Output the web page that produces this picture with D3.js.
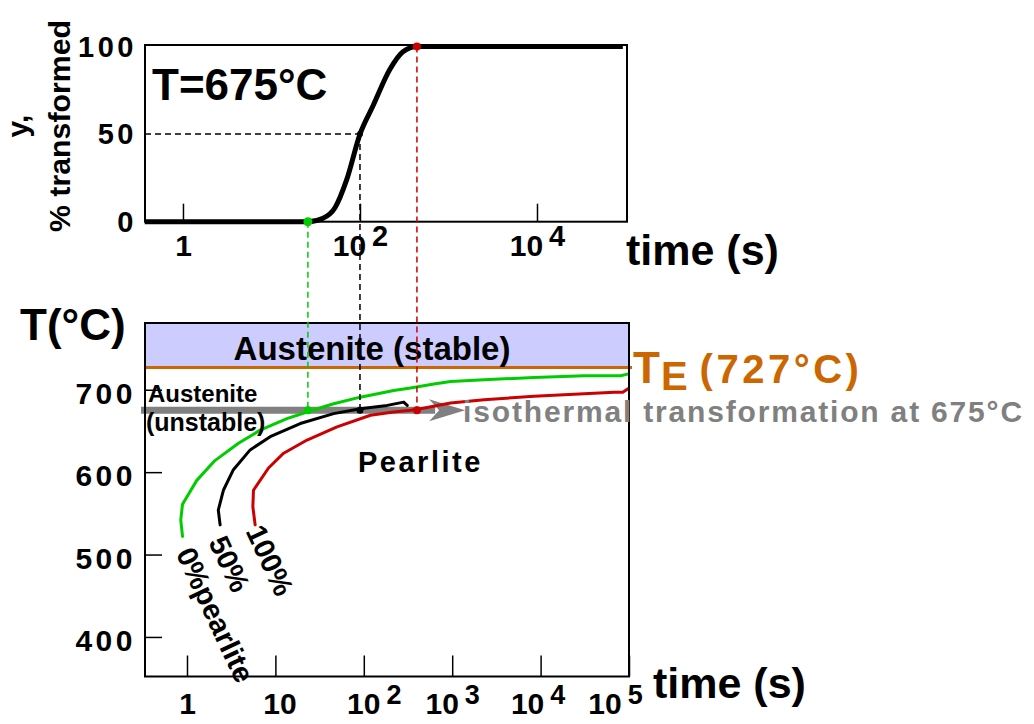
<!DOCTYPE html>
<html>
<head>
<meta charset="utf-8">
<script src="https://cdn.jsdelivr.net/npm/d3@7"></script>
<style>
  html, body { margin: 0; padding: 0; background: #fff; }
  svg { display: block; font-family: "Liberation Sans", Arial, sans-serif; font-weight: bold; }
</style>
</head>
<body>
<svg id="chart" width="1034" height="724"></svg>
<script>
// top panel: fraction of pearlite formed at 675°C
const kineticsTime = [0.37, 25.8, 38.2, 52.2, 70.8, 100, 140, 218, 306, 440, 93300];
const kineticsPct = [0, 0, 2, 8, 24, 50, 66, 87, 97, 100, 100];
const startTime = 25.8;
const halfTime = 100;
const finishTime = 440;

// bottom panel: TTT curves (time in s, temperature in °C)
const startCurveTime = [0.89, 0.85, 0.89, 1.29, 2.07, 3.82, 6.73, 13.5, 22.8, 45.6, 91.4, 218, 337, 621, 959, 2290, 8430, 31100, 80000, 96600];
const startCurveTemp = [522, 542, 561, 590, 614, 635, 651, 665, 673, 683, 691, 699, 702, 707, 710, 712, 715, 717, 717, 719];
const halfCurveTime = [2.37, 2.26, 2.58, 3.35, 5.18, 8.73, 19.1, 45.6, 91.4, 184, 283, 310];
const halfCurveTemp = [536, 554, 578, 603, 627, 643, 659, 671, 677, 681, 685, 681];
const endCurveTime = [5.9, 5.56, 5.65, 8.36, 12.4, 22.8, 49.8, 119, 218, 337, 439, 959, 2290, 8430, 31100, 68200, 85000, 96600];
const endCurveTemp = [536, 558, 578, 605, 623, 639, 655, 669, 673, 675, 677, 684, 688, 692, 695, 697, 697, 701];

const eutectoidTemp = 727;
const isoTemp = 675;
const arrowTipTime = 1400;

const topYTicks = [0, 50, 100];
const topXTicks = [1, 100, 10000];
const topXLabels = [['1', ''], ['10', '2'], ['10', '4']];
const botYTicks = [400, 500, 600, 700];
const botXTicks = [1, 10, 100, 1000, 10000, 100000];
const botXLabels = [['1', ''], ['10', ''], ['10', '2'], ['10', '3'], ['10', '4'], ['10', '5']];

const GREEN = '#00cc00';
const RED = '#cc0000';
const ORANGE = '#cc6600';
const GREY = '#808080';

const svg = d3.select('#chart');

// scales
const xTop = d3.scaleLog().domain([Math.pow(10, -0.429), Math.pow(10, 5.017)]).range([145, 627]);
const yTop = d3.scaleLinear().domain([0, 100]).range([221.7, 46.5]);
const xBot = d3.scaleLog().domain([Math.pow(10, -0.475), 100000]).range([145, 629]);
const yBot = d3.scaleLinear().domain([352, 781]).range([676.5, 323]);

function addSupLabel(text, [base, sup], supSize) {
  text.text(null);
  text.append('tspan').text(base);
  if (sup) {
    text.append('tspan').attr('dx', 6).attr('dy', -10).attr('font-size', supSize).text(sup);
  }
}

// ---------- top panel ----------
const topPanel = svg.append('g');

topPanel.append('g')
  .attr('transform', `translate(0,${yTop(0)})`)
  .call(d3.axisBottom(xTop).tickValues(topXTicks).tickSize(-18).tickFormat(''))
  .call((g) => g.select('.domain').remove())
  .call((g) => g.selectAll('.tick line').attr('stroke', '#000').attr('stroke-width', 1.5))
  .call((g) => g.selectAll('.tick').append('text')
    .attr('y', 34)
    .attr('text-anchor', 'middle')
    .attr('fill', '#000')
    .attr('font-size', 30)
    .attr('font-family', '"Liberation Sans", Arial, sans-serif')
    .attr('font-weight', 'bold')
    .each(function (d, i) { addSupLabel(d3.select(this), topXLabels[i], 29); }));

topPanel.selectAll('text.ytop')
  .data(topYTicks)
  .join('text')
  .attr('class', 'ytop')
  .attr('x', 137)
  .attr('y', (d) => yTop(d) + 10)
  .attr('text-anchor', 'end')
  .attr('font-size', 29)
  .attr('letter-spacing', 3.5)
  .text((d) => d);

// dashed guide at 50 %
topPanel.append('line')
  .attr('x1', xTop.range()[0]).attr('x2', xTop(halfTime))
  .attr('y1', yTop(50)).attr('y2', yTop(50))
  .attr('stroke', '#000').attr('stroke-width', 1.5).attr('stroke-dasharray', '6,4');

const kinetics = d3.range(kineticsTime.length).map((i) => [kineticsTime[i], kineticsPct[i]]);
topPanel.append('path')
  .datum(kinetics)
  .attr('fill', 'none')
  .attr('stroke', '#000')
  .attr('stroke-width', 5)
  .attr('stroke-linejoin', 'round')
  .attr('d', d3.line().x((d) => xTop(d[0])).y((d) => yTop(d[1])).curve(d3.curveMonotoneX));

topPanel.append('rect')
  .attr('x', 145).attr('y', 45)
  .attr('width', 627 - 145).attr('height', yTop(0) - 45)
  .attr('fill', 'none').attr('stroke', '#000').attr('stroke-width', 2);

topPanel.append('text')
  .attr('x', 152).attr('y', 100)
  .attr('font-size', 44)
  .text('T=675°C');

topPanel.append('text')
  .attr('transform', 'translate(28,126) rotate(-90)')
  .attr('text-anchor', 'middle')
  .attr('font-size', 30)
  .text('y,');

topPanel.append('text')
  .attr('transform', 'translate(70,126) rotate(-90)')
  .attr('text-anchor', 'middle')
  .attr('font-size', 29)
  .attr('textLength', 212)
  .attr('lengthAdjust', 'spacingAndGlyphs')
  .text('% transformed');

topPanel.append('text')
  .attr('x', 626).attr('y', 265)
  .attr('font-size', 43)
  .text('time (s)');

// ---------- bottom panel ----------
const botPanel = svg.append('g');

botPanel.append('rect')
  .attr('x', 145).attr('y', yBot(781))
  .attr('width', 629 - 145).attr('height', yBot(eutectoidTemp) - yBot(781))
  .attr('fill', '#ccccff');

botPanel.append('line')
  .attr('x1', 145).attr('x2', 632)
  .attr('y1', yBot(eutectoidTemp)).attr('y2', yBot(eutectoidTemp))
  .attr('stroke', ORANGE).attr('stroke-width', 3);

botPanel.append('g')
  .attr('transform', `translate(0,${yBot(352)})`)
  .call(d3.axisBottom(xBot).tickValues(botXTicks).tickSize(-21).tickFormat(''))
  .call((g) => g.select('.domain').remove())
  .call((g) => g.selectAll('.tick line').attr('stroke', '#000').attr('stroke-width', 1.5))
  .call((g) => g.selectAll('.tick').append('text')
    .attr('y', 37)
    .attr('x', (d, i) => [0, 4, 10, 0, -3, -14][i])
    .attr('text-anchor', 'middle')
    .attr('fill', '#000')
    .attr('font-size', 30)
    .attr('font-family', '"Liberation Sans", Arial, sans-serif')
    .attr('font-weight', 'bold')
    .each(function (d, i) { addSupLabel(d3.select(this), botXLabels[i], 27); }));

botPanel.append('g')
  .attr('transform', 'translate(145,0)')
  .call(d3.axisLeft(yBot).tickValues(botYTicks).tickSize(-17).tickFormat(''))
  .call((g) => g.select('.domain').remove())
  .call((g) => g.selectAll('.tick line').attr('stroke', '#000').attr('stroke-width', 1.5));

botPanel.selectAll('text.ybot')
  .data(botYTicks)
  .join('text')
  .attr('class', 'ybot')
  .attr('x', 136)
  .attr('y', (d) => yBot(d) + 14)
  .attr('text-anchor', 'end')
  .attr('font-size', 30)
  .attr('letter-spacing', 3.5)
  .text((d) => d);

// isothermal arrow at 675°C
const yIso = yBot(isoTemp);
const tipX = xBot(arrowTipTime);
botPanel.append('line')
  .attr('x1', 141).attr('x2', tipX - 30)
  .attr('y1', yIso).attr('y2', yIso)
  .attr('stroke', GREY).attr('stroke-width', 7);
botPanel.append('path')
  .attr('fill', GREY)
  .attr('d', `M${tipX - 36},${yIso - 11} L${tipX},${yIso} L${tipX - 36},${yIso + 11} L${tipX - 26},${yIso} Z`);

// TTT curves
const tttLine = d3.line().x((d) => xBot(d[0])).y((d) => yBot(d[1]));
const curves = [
  { time: startCurveTime, temp: startCurveTemp, color: GREEN, label: '0%pearlite', dx: -7, dy: 17 },
  { time: halfCurveTime, temp: halfCurveTemp, color: '#000', label: '50%', dx: -12, dy: 17 },
  { time: endCurveTime, temp: endCurveTemp, color: RED, label: '100%', dx: -10, dy: 6 },
];

curves.forEach((c) => {
  const pts = d3.range(c.time.length).map((i) => [c.time[i], c.temp[i]]);
  botPanel.append('path')
    .datum(pts)
    .attr('fill', 'none')
    .attr('stroke', c.color)
    .attr('stroke-width', 3)
    .attr('stroke-linejoin', 'round')
    .attr('stroke-linecap', 'round')
    .attr('d', tttLine);
  const x0 = xBot(pts[0][0]) + c.dx;
  const y0 = yBot(pts[0][1]) + c.dy;
  botPanel.append('text')
    .attr('transform', `translate(${x0},${y0}) rotate(65)`)
    .attr('font-size', 29)
    .text(c.label);
});

botPanel.append('rect')
  .attr('x', 145).attr('y', yBot(781))
  .attr('width', 629 - 145).attr('height', yBot(352) - yBot(781))
  .attr('fill', 'none').attr('stroke', '#000').attr('stroke-width', 2);

// connectors between the two panels
const guides = [
  { t: startTime, pct: 0, color: GREEN, rTop: 4.5, rBot: 4 },
  { t: halfTime, pct: 50, color: '#000', rTop: 3, rBot: 3.5 },
  { t: finishTime, pct: 100, color: RED, rTop: 4, rBot: 4 },
];
guides.forEach((g) => {
  svg.append('line')
    .attr('x1', xTop(g.t)).attr('x2', xTop(g.t))
    .attr('y1', yTop(g.pct)).attr('y2', yIso)
    .attr('stroke', g.color).attr('stroke-width', 1.5).attr('stroke-dasharray', '6,4');
  svg.append('circle').attr('cx', xTop(g.t)).attr('cy', yTop(g.pct)).attr('r', g.rTop).attr('fill', g.color);
  svg.append('circle').attr('cx', xTop(g.t)).attr('cy', yIso).attr('r', g.rBot).attr('fill', g.color);
});

// annotations
botPanel.append('text')
  .attr('x', 372).attr('y', 360)
  .attr('text-anchor', 'middle')
  .attr('font-size', 33)
  .text('Austenite (stable)');

botPanel.append('text').attr('x', 148).attr('y', 402).attr('font-size', 24).text('Austenite');
botPanel.append('text').attr('x', 146).attr('y', 431).attr('font-size', 25).text('(unstable)');

botPanel.append('text')
  .attr('x', 358).attr('y', 472)
  .attr('font-size', 29)
  .attr('letter-spacing', 2.5)
  .text('Pearlite');

botPanel.append('text')
  .attr('x', tipX - 2).attr('y', yIso + 12)
  .attr('font-size', 30)
  .attr('fill', GREY)
  .attr('textLength', 559)
  .attr('lengthAdjust', 'spacing')
  .text('isothermal transformation at 675°C');

const te = botPanel.append('text')
  .attr('x', 633).attr('y', 383)
  .attr('fill', ORANGE);
te.append('tspan').attr('font-size', 44).text('T');
te.append('tspan').attr('font-size', 40).attr('dx', 1).attr('dy', 7).text('E');
te.append('tspan').attr('font-size', 40).attr('dx', 12).attr('dy', -7).attr('letter-spacing', 3.5).text('(727°C)');

botPanel.append('text')
  .attr('x', 20).attr('y', 340)
  .attr('font-size', 44)
  .text('T(°C)');

botPanel.append('text')
  .attr('x', 653).attr('y', 698)
  .attr('font-size', 43)
  .text('time (s)');
</script>
</body>
</html>
